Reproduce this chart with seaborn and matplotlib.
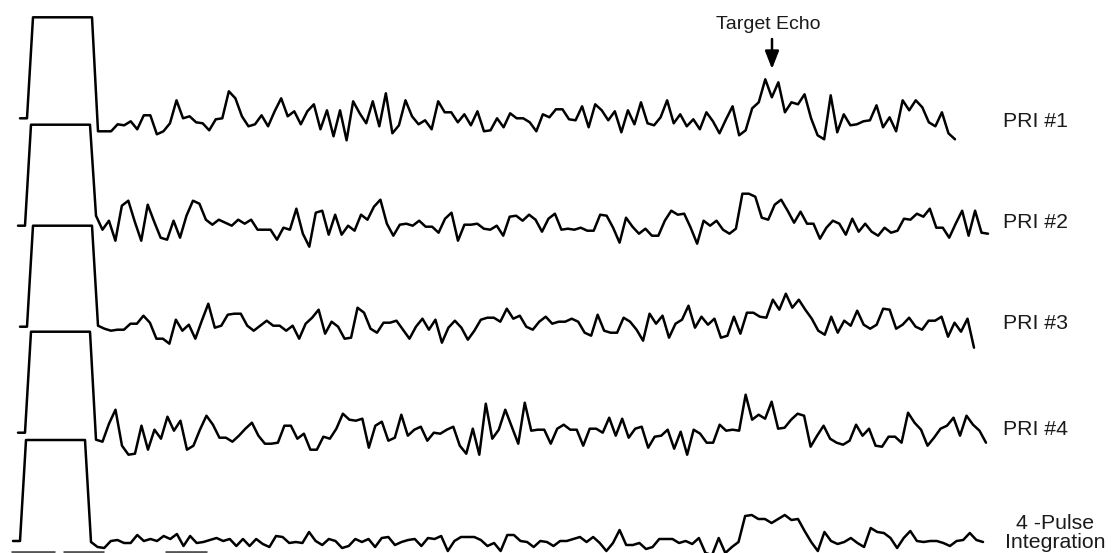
import numpy as np
import pandas as pd
import matplotlib
matplotlib.use("Agg")
import matplotlib.pyplot as plt
import seaborn as sns

# ---------------- data (amplitude above each trace's baseline) ----------------
labels = ["PRI #1", "PRI #2", "PRI #3", "PRI #4", "4 -Pulse\nIntegration"]

pri1 = [-13, -13, -13, -6, -7, -3, -11, 3, 3, -16, -13, -5, 18, 0, 2, -4, -5, -12, -1, 0,
        27, 20, 2, -8, -6, 3, -8, 7, 20, 2, 7, -6, 7, 14, -11, 8, -18, 8, -22, 17,
        5, -5, 17, -8, 25, -15, -7, 18, 2, -6, -2, -11, 17, 6, 6, -4, 4, -7, 7, -13,
        -12, 0, -9, 5, 0, 0, -4, -13, 4, 1, 9, 9,
        -1, -2, 12, -9, 14, 8, -2, 7, -14, 8, -6, 16, -5, -7, 1, 18, -5, 4, -8, -1,
        -11, 6, -3, -15, -1, 12, -17, -12, 10, 16, 39, 21, 36, 6, 16, 14, 24, 0, -17, -21,
        23, -14, 4, -7, -6, -3, -2, 13, -9, 1, -13, 18, 8, 18, 11, -4, -8, 6, -15, -21]

pri2 = [10, -4, 5, -15, 20, 25, 4, -15, 21, 4, -12, -14, 5, -12, 10, 25, 22, 6, 1, 6,
        3, 0, 6, 2, 6, -4, -4, -4, -14, -2, -4, 17, -8, -21, 13, 15, -9, 11, -9, 0,
        -5, 11, 6, 19, 26, 2, -10, 1, 2, 0, 5, -1, -1, -7, 7, 13, -15, 1, 1, 2,
        -3, -4, 0, -10, 9, 10, 5, 11, 6, -6, 7, 12,
        -4, -3, -4, -2, -5, -5, 11, 10, -2, -17, 8, -1, -8, -3, -10, -10, 5, 15, 11, 12,
        -2, -18, 5, 0, 5, -4, -8, -3, 32, 32, 29, 8, 6, 21, 26, 15, 3, 14, 2, 2,
        -13, -2, 5, 2, -9, 7, -6, 2, -6, -10, -2, -7, -5, 7, 6, 12, 9, 17, -2, -2,
        -12, 2, 15, -10, 15, -7, -8]

pri3 = [1, -2, -4, -3, -3, 3, 3, 11, 4, -12, -12, -17, 7, -4, 2, -12, 6, 23, -1, 1,
        12, 13, 13, 1, -4, 1, 6, 1, 1, -4, 1, -12, 3, 9, 17, -7, 5, 0, -12, -11,
        19, 14, -2, -6, 4, 4, 6, -3, -12, 0, 8, -3, 7, -16, -1, 6, -1, -13, -4, 7,
        9, 9, 5, 18, 8, 11, 0, -3, 5, 10, 3, 5,
        5, 8, 5, -6, -9, 12, -4, -6, -6, 9, 5, -3, -14, 13, 3, 11, -11, 3, 7, 21,
        -1, 10, 2, 8, -11, -9, 10, -7, 14, 14, 10, 9, 27, 17, 33, 19, 27, 17, 8, -4,
        -8, 10, -6, 6, 1, 16, 2, -2, 2, 18, 17, -2, 2, 9, 0, -3, 6, 6, 10, -10,
        4, -5, 8, -21]

pri4 = [-7, -9, 9, 23, -13, -22, -21, 7, -17, 3, -6, 16, 2, 12, -17, -13, 3, 17, 8, -5,
        -5, -9, -3, 4, 10, -3, -11, -11, -10, 7, 7, -6, -1, -17, -17, -4, -6, 4, 19, 13,
        12, 14, -15, 7, 11, -8, -5, 18, -3, 3, 6, -8, 0, -1, 3, 6, -13, -21, 4, -22,
        29, -6, 3, 23, 6, -11, 30, 2, 3, 3, -11, 4, 8,
        3, 3, -13, 4, 4, 0, 15, -3, 14, -5, 4, 6, -15, -4, -3, 3, -16, 1, -22, 3,
        -1, -10, -10, 8, 2, 3, 2, 38, 13, 18, 14, 31, 4, 5, 13, 19, 17, -14, -3, 7,
        -6, -10, -12, -8, 8, -3, 4, -13, -14, -4, -4, -10, 20, 10, 3, -13, -5, 4, 7, 15,
        -3, 17, 8, 2, -10]

integ = [-1, -6, -7, 0, 1, -2, -2, 6, 0, 2, 0, 5, 2, 7, -5, 5, -2, -1, 1, 3,
         0, 2, -5, 2, -5, 2, -3, -6, 5, 4, -2, -1, -2, 9, 0, -4, 2, 0, -7, -5,
         2, -1, 2, -6, 3, 4, -4, -1, 1, 2, -5, 3, 2, 5, -10, 0, 4, 4, 4, 1,
         -5, -2, -10, 6, 6, 0, -1, -6, 0, -1, -5, 0,
         0, 2, 4, -1, 4, -2, -10, -2, 11, -4, -4, -2, -8, -6, 2, 2, 2, -2, 0, -3,
         3, -12, -14, 3, -12, -6, -1, 25, 26, 22, 22, 18, 22, 26, 21, 22, 10, -1, -10, 9,
         0, -3, -1, 3, -2, -6, 13, 9, 8, 3, -7, 3, 10, 0, -1, 0, 0, -2, -5, 0,
         1, 8, 1, -1]

series = [pri1, pri2, pri3, pri4, integ]

# range extent of each trace's receive window (range units) and the transmit pulse
noise_start = [98, 96, 98, 96, 91]
noise_end = [955, 988, 974, 986, 983]
pulse_rel = [-78, -71, -65, -6]          # baseline, rise, top start, top end (relative)
pulse_amp = [0, 0, 101, 101]

# layout (baseline of each trace, in figure pixels from top)
baselines = [118.3, 225.7, 326.7, 432.7, 541.0]

# ---------------- figure ----------------
sns.set_theme(style="white")
plt.rcParams["font.family"] = ["Liberation Sans", "DejaVu Sans"]

W, H = 1112, 553
fig = plt.figure(figsize=(W / 100, H / 100), dpi=100)
ax = fig.add_axes([0, 0, 1, 1])

for k, vals in enumerate(series):
    vals = np.asarray(vals, dtype=float)
    xr = np.linspace(noise_start[k], noise_end[k], len(vals))
    px = [noise_start[k] + r for r in pulse_rel]
    x_all = np.concatenate([px, xr])
    a_all = np.concatenate([pulse_amp, vals])
    df = pd.DataFrame({"range": x_all, "y": baselines[k] - a_all})
    sns.lineplot(data=df, x="range", y="y", sort=False, estimator=None,
                 color="black", linewidth=1.8, ax=ax)

ax.set_xlim(0, W)
ax.set_ylim(H, 0)
ax.axis("off")

# trace labels
txt_kw = dict(fontsize=15.3, color="#1a1a1a")
label_base = [126.7, 228.3, 329.3, 435.0]
for k in range(4):
    ax.text(1003, label_base[k], labels[k], ha="left", va="baseline", **txt_kw)
l1, l2 = labels[4].split("\n")
ax.text(1055, 529, l1, ha="center", va="baseline", **txt_kw)
ax.text(1055, 548, l2, ha="center", va="baseline", **txt_kw)

# target echo annotation
ax.text(768, 29, "Target Echo", ha="center", va="baseline", fontsize=14, color="#1a1a1a")
ax.annotate("", xy=(772, 69), xytext=(772, 39),
            arrowprops=dict(arrowstyle="-|>,head_length=0.9,head_width=0.35",
                            color="black", lw=1.8, shrinkA=0, shrinkB=0))

# cut-off boxes at the bottom edge
for x0, x1 in [(11, 55), (63, 104), (165, 207)]:
    ax.plot([x0, x1], [552, 552], color="#555555", lw=2, solid_capstyle="butt")

fig.savefig("out.png", dpi=100)
